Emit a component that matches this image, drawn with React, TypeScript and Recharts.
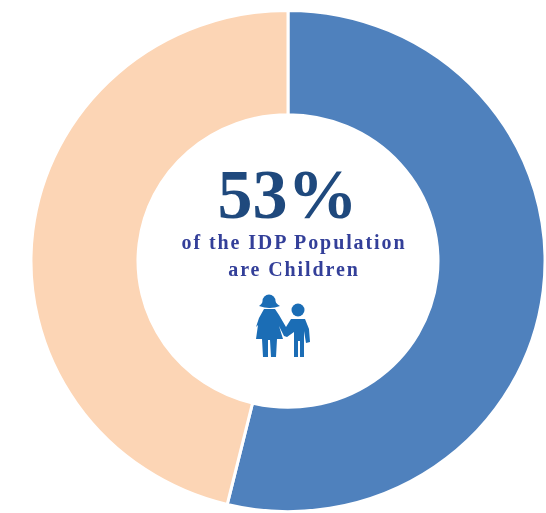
import { PieChart, Pie, Cell } from "recharts";

const labels = ["Children", "Adults"];
const values = [53.8, 46.2];
const colors = ["#4f81bd", "#fcd5b5"];
const headline = "53%";
const captionLines = ["of the IDP Population", "are Children"];

const data = labels.map((name, i) => ({ name, value: values[i] }));

// mother and child pictogram, drawn in page coordinates
const People = () => (
  <svg width="546" height="513" style={{ position: "absolute", left: 0, top: 0, filter: "blur(0.5px)" }}>
    <g fill="#1b6db5">
      <circle cx="269" cy="301" r="6.5" />
      <path d="M259 306 Q263 303 264 298 Q269 293 274 298 Q275 303 280 306 Q270 310 259 306 Z" />
      <path d="M264 309 H275 L279 315 L286 327 L291 319 H305 L309 329 L310 342 L306 343 L304 331 V357 H300 V341 H298 V357 H294 V332 L287 337 L284 336 L279 326 L283 339 H277 L276 357 H271 L270 340 H268 L268 357 H263 L262 339 H256 L258 325 L256 327 L259 318 Z" />
      <circle cx="298" cy="310" r="6.5" />
    </g>
  </svg>
);

export default function App() {
  return (
    <div style={{ position: "relative", width: 546, height: 513, overflow: "hidden" }}>
      <style>{"body{margin:0}"}</style>
      {/* the source donut is slightly squashed vertically */}
      <div style={{ position: "absolute", left: 0, top: 0, transform: "scaleY(0.975)", transformOrigin: "288px 261px" }}>
        <PieChart width={546} height={530} margin={{ top: 0, right: 0, bottom: 0, left: 0 }}>
          <Pie
            data={data}
            dataKey="value"
            cx={288}
            cy={261}
            innerRadius={150}
            outerRadius={257}
            startAngle={90}
            endAngle={-270}
            stroke="#ffffff"
            strokeWidth={3}
            isAnimationActive={false}
          >
            {data.map((d, i) => (
              <Cell key={d.name} fill={colors[i]} />
            ))}
          </Pie>
        </PieChart>
      </div>
      <div style={{ position: "absolute", left: 0, top: 160, width: 575, textAlign: "center", fontFamily: "'Liberation Serif', serif", fontWeight: "bold", color: "#1f497d", fontSize: 70, lineHeight: "70px" }}>
        {headline}
      </div>
      <div style={{ position: "absolute", left: 0, top: 229, width: 588, textAlign: "center", fontFamily: "'Liberation Serif', serif", fontWeight: "bold", color: "#333f99", fontSize: 20, lineHeight: "27px", letterSpacing: 1.9, filter: "blur(0.6px)" }}>
        {captionLines[0]}
        <br />
        {captionLines[1]}
      </div>
      <People />
    </div>
  );
}
